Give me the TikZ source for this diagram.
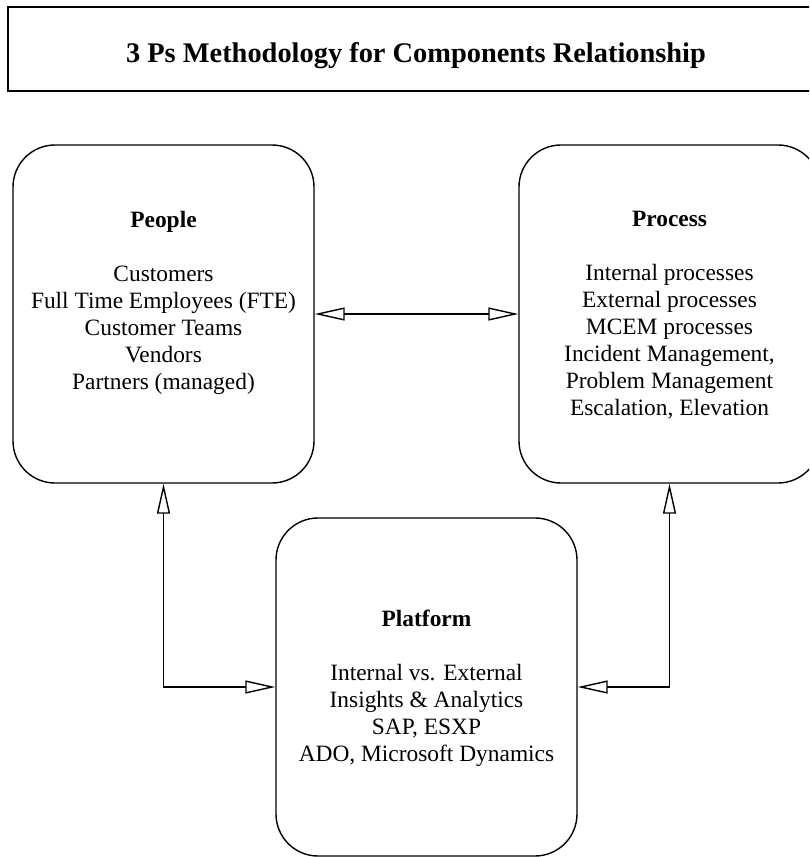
\documentclass[tikz,border=0pt]{standalone}
\usepackage{fontspec}
\setmainfont{Liberation Serif}
\usetikzlibrary{arrows.meta}
\begin{document}
\begin{tikzpicture}[x=1pt,y=-1pt,
  frame/.style={draw, line width=1.4pt, inner sep=0pt},
  panel/.style={frame, rounded corners=42pt, minimum width=301pt, minimum height=338pt},
  paneltext/.style={anchor=north, inner sep=0pt, align=center, font=\fontsize{23.4}{27}\selectfont},
  opentip/.tip={Triangle[open, length=30pt, width=13pt]},
  link/.style={line width=1.4pt, opentip-opentip},
]
\useasboundingbox (0,0) rectangle (809,857);
\clip (0,0) rectangle (809,857);

% heading
\node[frame, minimum width=816pt, minimum height=84pt] (titlebox) at (416,49) {};
\node[anchor=base, inner sep=0pt, font=\bfseries\fontsize{28.4}{32}\selectfont] (title) at (416,62)
  {3 Ps Methodology for Components Relationship};

% the three components
\node[panel] (people) at (163.5,314) {};
\node[panel] (process) at (669.5,314) {};
\node[panel] (platform) at (426.5,687) {};

\node[paneltext] (peopletext) at (163.5,211.3)
  {\textbf{People}\\[27pt]
   Customers\\
   Full Time Employees (FTE)\\
   Customer Teams\\
   Vendors\\
   Partners (managed)};

\node[paneltext] (processtext) at (669.5,211.3)
  {\textbf{Process}\\[27pt]
   Internal processes\\
   External processes\\
   MCEM processes\\
   Incident Management,\\
   Problem Management\\
   Escalation, Elevation};

\node[paneltext] (platformtext) at (426.5,610.3)
  {\textbf{Platform}\\[27pt]
   Internal vs. External\\
   Insights \& Analytics\\
   SAP, ESXP\\
   ADO, Microsoft Dynamics};

% relationships
\draw[link] (people.east) -- (process.west);
\draw[link] (people.south) |- (platform.west);
\draw[link] (process.south) |- (platform.east);
\end{tikzpicture}
\end{document}
